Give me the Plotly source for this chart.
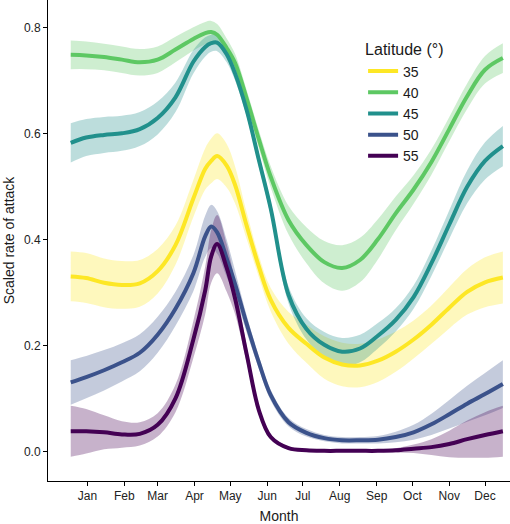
import plotly.graph_objects as go

# ---- data (day of year) ----
days = [-13, 0, 15, 30, 45, 60, 75, 90, 100, 105, 110, 118, 125, 135, 145, 155,
        170, 185, 200, 215, 230, 245, 260, 275, 290, 305, 320, 335, 350]

latitudes = ["35", "40", "45", "50", "55"]
colors = ["#FDE725", "#5DC863", "#21908C", "#3B528B", "#440154"]

rate_35 = [0.331, 0.328, 0.319, 0.315, 0.318, 0.341, 0.390, 0.478, 0.534, 0.549, 0.558, 0.540, 0.504, 0.425, 0.350, 0.287,
           0.234, 0.204, 0.178, 0.165, 0.163, 0.172, 0.189, 0.212, 0.240, 0.272, 0.302, 0.320, 0.329]
rate_40 = [0.749, 0.748, 0.745, 0.740, 0.735, 0.740, 0.759, 0.779, 0.790, 0.792, 0.787, 0.762, 0.734, 0.665, 0.590, 0.519,
           0.437, 0.390, 0.358, 0.347, 0.362, 0.401, 0.450, 0.495, 0.547, 0.609, 0.671, 0.721, 0.743]
rate_45 = [0.583, 0.593, 0.598, 0.601, 0.609, 0.630, 0.669, 0.736, 0.764, 0.771, 0.772, 0.750, 0.714, 0.643, 0.551, 0.459,
           0.296, 0.232, 0.202, 0.189, 0.195, 0.219, 0.249, 0.292, 0.356, 0.429, 0.500, 0.549, 0.577]
rate_50 = [0.131, 0.141, 0.154, 0.169, 0.187, 0.221, 0.270, 0.337, 0.407, 0.425, 0.414, 0.365, 0.317, 0.240, 0.169, 0.107,
           0.056, 0.036, 0.026, 0.022, 0.022, 0.023, 0.028, 0.037, 0.052, 0.071, 0.091, 0.109, 0.128]
rate_55 = [0.039, 0.039, 0.037, 0.033, 0.034, 0.051, 0.101, 0.212, 0.305, 0.369, 0.392, 0.347, 0.290, 0.182, 0.079, 0.028,
           0.007, 0.003, 0.002, 0.002, 0.002, 0.002, 0.003, 0.006, 0.009, 0.015, 0.024, 0.032, 0.039]

se_35 = [0.047, 0.047, 0.046, 0.045, 0.044, 0.042, 0.037, 0.035, 0.039, 0.042, 0.043, 0.041, 0.035, 0.025, 0.020, 0.022,
         0.030, 0.036, 0.040, 0.041, 0.041, 0.040, 0.038, 0.036, 0.036, 0.039, 0.043, 0.047, 0.049]
se_40 = [0.027, 0.026, 0.025, 0.025, 0.025, 0.025, 0.024, 0.022, 0.021, 0.021, 0.020, 0.018, 0.017, 0.016, 0.017, 0.020,
         0.027, 0.034, 0.040, 0.043, 0.042, 0.038, 0.032, 0.027, 0.024, 0.023, 0.024, 0.026, 0.028]
se_45 = [0.037, 0.035, 0.034, 0.033, 0.032, 0.031, 0.028, 0.022, 0.018, 0.016, 0.016, 0.015, 0.013, 0.012, 0.012, 0.013,
         0.016, 0.020, 0.024, 0.026, 0.026, 0.024, 0.022, 0.022, 0.024, 0.027, 0.031, 0.035, 0.038]
se_50 = [0.042, 0.040, 0.038, 0.036, 0.035, 0.034, 0.032, 0.034, 0.039, 0.041, 0.040, 0.035, 0.025, 0.016, 0.012, 0.010,
         0.008, 0.007, 0.006, 0.006, 0.006, 0.007, 0.010, 0.014, 0.020, 0.027, 0.034, 0.040, 0.045]
se_55 = [0.048, 0.042, 0.032, 0.025, 0.022, 0.022, 0.026, 0.035, 0.045, 0.050, 0.055, 0.045, 0.030, 0.015, 0.008, 0.005,
         0.003, 0.002, 0.002, 0.002, 0.002, 0.002, 0.004, 0.008, 0.015, 0.025, 0.035, 0.043, 0.048]

month_days = [1, 32, 60, 91, 121, 152, 182, 213, 244, 274, 305, 335]
month_labels = ["Jan", "Feb", "Mar", "Apr", "May", "Jun", "Jul", "Aug", "Sep", "Oct", "Nov", "Dec"]
y_ticks = [0.0, 0.2, 0.4, 0.6, 0.8]

rates = [rate_35, rate_40, rate_45, rate_50, rate_55]
ses = [se_35, se_40, se_45, se_50, se_55]


def rgba(hex_color, a):
    h = hex_color.lstrip("#")
    r, g, b = int(h[0:2], 16), int(h[2:4], 16), int(h[4:6], 16)
    return f"rgba({r},{g},{b},{a})"


fig = go.Figure()

# ribbons
for lat, col, r, s in zip(latitudes, colors, rates, ses):
    lower = [v - e for v, e in zip(r, s)]
    upper = [v + e for v, e in zip(r, s)]
    fig.add_trace(go.Scatter(x=days, y=lower, mode="lines", line=dict(width=0, shape="spline"),
                             showlegend=False, hoverinfo="skip"))
    fig.add_trace(go.Scatter(x=days, y=upper, mode="lines", line=dict(width=0, shape="spline"),
                             fill="tonexty", fillcolor=rgba(col, 0.3),
                             showlegend=False, hoverinfo="skip"))

# lines
for lat, col, r in zip(latitudes, colors, rates):
    fig.add_trace(go.Scatter(x=days, y=r, mode="lines", name=lat,
                             line=dict(color=col, width=4, shape="spline")))

font_family = "Liberation Sans, Arial, Helvetica, sans-serif"

fig.update_layout(
    width=510, height=524,
    margin=dict(l=48, r=0, t=0, b=40),
    plot_bgcolor="white", paper_bgcolor="white",
    font=dict(family=font_family, color="#1a1a1a"),
    xaxis=dict(
        range=[-32.1, 356],
        tickmode="array", tickvals=month_days, ticktext=month_labels,
        showline=True, linecolor="black", linewidth=1,
        ticks="outside", ticklen=4, tickcolor="black",
        showgrid=False, zeroline=False,
        tickfont=dict(size=12, color="#222"),
        title=dict(text="Month", font=dict(size=14, color="#1a1a1a"), standoff=11),
    ),
    yaxis=dict(
        range=[-0.0549, 0.8525],
        tickmode="array", tickvals=y_ticks, tickformat=".1f",
        showline=True, linecolor="black", linewidth=1,
        ticks="outside", ticklen=4, tickcolor="black",
        showgrid=False, zeroline=False,
        tickfont=dict(size=12, color="#222"),
        title=dict(text="Scaled rate of attack", font=dict(size=14, color="#1a1a1a"), standoff=6),
    ),
    legend=dict(
        x=0.682, y=0.928, xanchor="left", yanchor="top",
        traceorder="normal",
        title=dict(text="Latitude (°)", font=dict(size=16)),
        font=dict(size=14),
        bgcolor="rgba(0,0,0,0)",
        itemwidth=30,
    ),
)

fig.write_html("out.html", config={"displayModeBar": False},
               post_script="document.body.style.margin='0';document.body.style.padding='0';")
